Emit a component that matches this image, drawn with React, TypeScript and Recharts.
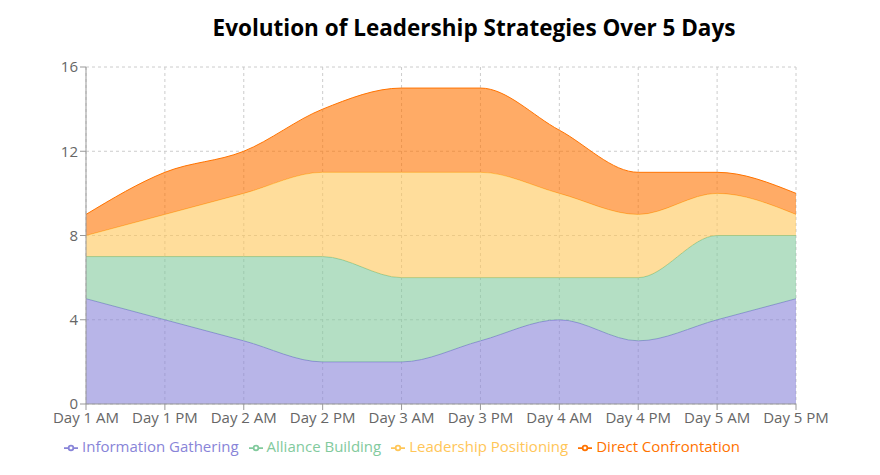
import React from "react";
import {
  Area,
  AreaChart,
  CartesianGrid,
  Legend,
  XAxis,
  YAxis,
} from "recharts";

const DAYS = [
  "Day 1 AM", "Day 1 PM", "Day 2 AM", "Day 2 PM", "Day 3 AM",
  "Day 3 PM", "Day 4 AM", "Day 4 PM", "Day 5 AM", "Day 5 PM",
];
const INFO = [5, 4, 3, 2, 2, 3, 4, 3, 4, 5];
const ALLIANCE = [2, 3, 4, 5, 4, 3, 2, 3, 4, 3];
const LEADERSHIP = [1, 2, 3, 4, 5, 5, 4, 3, 2, 1];
const DIRECT = [1, 2, 2, 3, 4, 4, 3, 2, 1, 1];
const Y_TICKS = [0, 4, 8, 12, 16];

const data = DAYS.map((day, i) => ({
  day,
  info: INFO[i],
  alliance: ALLIANCE[i],
  leadership: LEADERSHIP[i],
  direct: DIRECT[i],
}));

const FONT = "'Open Sans', 'Segoe UI', sans-serif";
const TICK = { fill: "#666", fontSize: 15, fontFamily: FONT };

export default function App() {
  return (
    <div style={{ position: "absolute", left: 0, top: 0, width: 880, height: 475, background: "#fff", fontFamily: FONT }}>
      <div
        style={{
          position: "absolute",
          top: 12,
          left: 0,
          width: 948,
          textAlign: "center",
          fontSize: 22.5,
          fontWeight: 700,
          color: "#000",
        }}
      >
        Evolution of Leadership Strategies Over 5 Days
      </div>
      <AreaChart
        width={880}
        height={475}
        data={data}
        margin={{ top: 67, right: 84, left: 26, bottom: 21 }}
      >
        <CartesianGrid strokeDasharray="3 3" stroke="#ccc" />
        <XAxis dataKey="day" tick={TICK} stroke="#999" interval={0} />
        <YAxis ticks={Y_TICKS} domain={[0, 16]} tick={TICK} stroke="#999" width={60} />
        <Legend itemSorter={null} wrapperStyle={{ fontFamily: FONT, fontSize: 15, bottom: 19, left: 22 }} />
        <Area type="monotone" dataKey="info" name="Information Gathering" stackId="1" stroke="#8884d8" fill="#8884d8" fillOpacity={0.6} isAnimationActive={false} />
        <Area type="monotone" dataKey="alliance" name="Alliance Building" stackId="1" stroke="#82ca9d" fill="#82ca9d" fillOpacity={0.6} isAnimationActive={false} />
        <Area type="monotone" dataKey="leadership" name="Leadership Positioning" stackId="1" stroke="#ffc658" fill="#ffc658" fillOpacity={0.6} isAnimationActive={false} />
        <Area type="monotone" dataKey="direct" name="Direct Confrontation" stackId="1" stroke="#ff7300" fill="#ff7300" fillOpacity={0.6} isAnimationActive={false} />
      </AreaChart>
    </div>
  );
}
